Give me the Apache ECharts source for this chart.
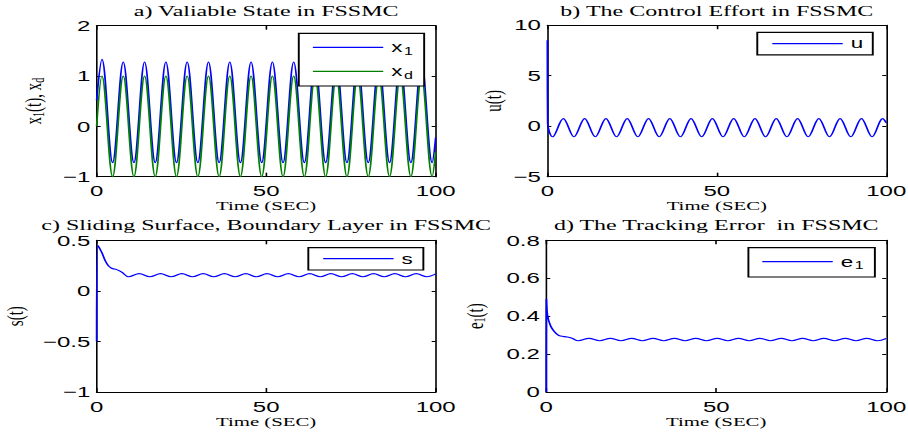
<!DOCTYPE html>
<html>
<head>
<meta charset="utf-8">
<script src="https://cdn.jsdelivr.net/npm/echarts@6/dist/echarts.min.js"></script>
<style>
  html, body { margin: 0; padding: 0; background: #fff; overflow: hidden; }
  #wrap { width: 908px; height: 432px; overflow: hidden; position: relative; }
  #chart { width: 567.5px; height: 432px; transform: scaleX(1.6); transform-origin: 0 0; }
</style>
</head>
<body>
<div id="wrap"><div id="chart"></div></div>
<script>
// ---- Data ----
// Panel a: extrema times (peaks / troughs) of the reference sinusoid, plus ends
const tX = [0, 1.57, 4.71, 7.85, 11.00, 14.14, 17.28, 20.42, 23.56, 26.70, 29.85, 32.99, 36.13, 39.27, 42.41, 45.55, 48.69, 51.84, 54.98, 58.12, 61.26, 64.40, 67.54, 70.69, 73.83, 76.97, 80.11, 83.25, 86.39, 89.54, 92.68, 95.82, 98.96, 100];
const x1Vals = [0.52, 1.33, -0.72, 1.28, -0.72, 1.28, -0.72, 1.28, -0.72, 1.28, -0.72, 1.28, -0.72, 1.28, -0.72, 1.28, -0.72, 1.28, -0.72, 1.28, -0.72, 1.28, -0.72, 1.28, -0.72, 1.28, -0.72, 1.28, -0.72, 1.28, -0.72, 1.28, -0.72, -0.22];
const xdVals = [0, 1, -1, 1, -1, 1, -1, 1, -1, 1, -1, 1, -1, 1, -1, 1, -1, 1, -1, 1, -1, 1, -1, 1, -1, 1, -1, 1, -1, 1, -1, 1, -1, -0.51];

// Panel b: control effort u(t)
const tU = [0, 0.1, 1.57, 4.71, 7.85, 11.00, 14.14, 17.28, 20.42, 23.56, 26.70, 29.85, 32.99, 36.13, 39.27, 42.41, 45.55, 48.69, 51.84, 54.98, 58.12, 61.26, 64.40, 67.54, 70.69, 73.83, 76.97, 80.11, 83.25, 86.39, 89.54, 92.68, 95.82, 98.96, 100];
const uVals = [8.5, 0.3, -1.05, 0.75, -1.05, 0.75, -1.05, 0.75, -1.05, 0.75, -1.05, 0.75, -1.05, 0.75, -1.05, 0.75, -1.05, 0.75, -1.05, 0.75, -1.05, 0.75, -1.05, 0.75, -1.05, 0.75, -1.05, 0.75, -1.05, 0.75, -1.05, 0.75, -1.05, 0.75, 0.33];

// Panel c: sliding surface s(t)
const tS = [0, 0.3, 1.5, 2.5, 3.4, 4.4, 5.9, 7.4, 9.42, 12.57, 15.71, 18.85, 21.99, 25.13, 28.27, 31.42, 34.56, 37.70, 40.84, 43.98, 47.12, 50.27, 53.41, 56.55, 59.69, 62.83, 65.97, 69.12, 72.26, 75.40, 78.54, 81.68, 84.82, 87.96, 91.11, 94.25, 97.39, 100];
const sVals = [-0.5, 0.45, 0.38, 0.30, 0.25, 0.224, 0.21, 0.185, 0.14, 0.17, 0.14, 0.17, 0.14, 0.17, 0.14, 0.17, 0.14, 0.17, 0.14, 0.17, 0.14, 0.17, 0.14, 0.17, 0.14, 0.17, 0.14, 0.17, 0.14, 0.17, 0.14, 0.17, 0.14, 0.17, 0.14, 0.17, 0.14, 0.168];

// Panel d: tracking error e1(t)
const tE = [0, 0.05, 0.4, 1.3, 2.3, 3.2, 4.2, 6.2, 7.6, 9.42, 12.57, 15.71, 18.85, 21.99, 25.13, 28.27, 31.42, 34.56, 37.70, 40.84, 43.98, 47.12, 50.27, 53.41, 56.55, 59.69, 62.83, 65.97, 69.12, 72.26, 75.40, 78.54, 81.68, 84.82, 87.96, 91.11, 94.25, 97.39, 100];
const eVals = [0, 0.49, 0.40, 0.348, 0.32, 0.304, 0.295, 0.29, 0.283, 0.27, 0.283, 0.27, 0.283, 0.27, 0.283, 0.27, 0.283, 0.27, 0.283, 0.27, 0.283, 0.27, 0.283, 0.27, 0.283, 0.27, 0.283, 0.27, 0.283, 0.27, 0.283, 0.27, 0.283, 0.27, 0.283, 0.27, 0.283, 0.27, 0.282];

// Axis ranges / tick intervals (tick labels come from these)
const xRange = { min: 0, max: 100, interval: 50 };
const yRanges = [
  { min: -1, max: 2, interval: 1 },
  { min: -5, max: 10, interval: 5 },
  { min: -1, max: 0.5, interval: 0.5 },
  { min: 0, max: 0.8, interval: 0.2 }
];
const titles = [
  'a) Valiable State in FSSMC',
  'b) The Control Effort in FSSMC',
  'c) Sliding Surface, Boundary Layer in FSSMC',
  'd) The Tracking Error  in FSSMC'
];
const xLabel = 'Time (SEC)';

// ---- Layout (chart coordinates, before the horizontal stretch) ----
const grids = [
  { left: 60.4, top: 25.7, width: 211.9, height: 151.0 },
  { left: 342.1, top: 25.2, width: 211.8, height: 151.5 },
  { left: 60.4, top: 240.3, width: 211.9, height: 151.7 },
  { left: 341.4, top: 240.3, width: 212.5, height: 151.7 }
];
const titleTops = [3, 3, 217.5, 217.5];
const yNameGaps = [32, 26, 43, 37];
const yNames = [
  '{m|x}{s|1}{m|(t), x}{s|d}',
  '{m|u(t)}',
  '{m|s(t)}',
  '{m|e}{s|1}{m|(t)}'
];

const SANS = 'Liberation Sans';
const SERIF = 'Liberation Serif';
const BLUE = '#0000ff';
const GREEN = '#008000';
const seriesColors = { x1: BLUE, xd: GREEN, u: BLUE, s: BLUE, e1: BLUE };

function fmt(v) {
  const n = parseFloat(Number(v).toFixed(3));
  return String(n).replace('-', '\u2212');
}

const option = {
  animation: false,
  backgroundColor: '#fff',
  title: [],
  grid: [],
  xAxis: [],
  yAxis: [],
  legend: [],
  series: []
};

grids.forEach((g, i) => {
  option.grid.push(Object.assign({ outerBoundsMode: 'none', containLabel: false, show: false }, g));
  option.title.push({
    text: titles[i],
    left: g.left + g.width / 2,
    textAlign: 'center',
    top: titleTops[i],
    padding: 0,
    textStyle: { fontFamily: SERIF, fontSize: 15, fontWeight: 'normal', color: '#000' }
  });
  // bottom x axis
  option.xAxis.push({
    type: 'value', gridIndex: i, position: 'bottom',
    min: xRange.min, max: xRange.max, interval: xRange.interval,
    name: xLabel, nameLocation: 'middle', nameGap: 23, nameMoveOverlap: false,
    nameTextStyle: { fontFamily: SERIF, fontSize: 13, color: '#000' },
    axisLine: { show: true, onZero: false, lineStyle: { color: '#000', width: 1 } },
    axisTick: { show: true, inside: true, length: 4, lineStyle: { color: '#000', width: 1 } },
    axisLabel: { show: true, margin: 7, fontFamily: SANS, fontSize: 15, color: '#000', formatter: fmt,
                 showMinLabel: true, showMaxLabel: true, hideOverlap: false },
    splitLine: { show: false }
  });
  // top x axis (box + mirrored ticks)
  option.xAxis.push({
    type: 'value', gridIndex: i, position: 'top',
    min: xRange.min, max: xRange.max, interval: xRange.interval,
    axisLine: { show: true, onZero: false, lineStyle: { color: '#000', width: 1 } },
    axisTick: { show: true, inside: true, length: 4, lineStyle: { color: '#000', width: 1 } },
    axisLabel: { show: false },
    splitLine: { show: false }
  });
  const yr = yRanges[i];
  option.yAxis.push({
    type: 'value', gridIndex: i, position: 'left',
    min: yr.min, max: yr.max, interval: yr.interval,
    name: yNames[i], nameLocation: 'middle', nameGap: yNameGaps[i], nameMoveOverlap: false,
    nameTextStyle: {
      fontFamily: SERIF, color: '#000',
      rich: {
        m: { fontFamily: SERIF, fontSize: 15, lineHeight: 16, color: '#000' },
        s: { fontFamily: SERIF, fontSize: 10, lineHeight: 10, padding: [7, 0, 0, 0], color: '#000' }
      }
    },
    axisLine: { show: true, onZero: false, lineStyle: { color: '#000', width: 1 } },
    axisTick: { show: true, inside: true, length: 2.5, lineStyle: { color: '#000', width: 1 } },
    axisLabel: { show: true, margin: 4, fontFamily: SANS, fontSize: 15, color: '#000', formatter: fmt,
                 showMinLabel: true, showMaxLabel: true, hideOverlap: false },
    splitLine: { show: false }
  });
  option.yAxis.push({
    type: 'value', gridIndex: i, position: 'right',
    min: yr.min, max: yr.max, interval: yr.interval,
    axisLine: { show: true, onZero: false, lineStyle: { color: '#000', width: 1 } },
    axisTick: { show: true, inside: true, length: 2.5, lineStyle: { color: '#000', width: 1 } },
    axisLabel: { show: false },
    splitLine: { show: false }
  });
});

function lineSeries(name, gi, ts, vs, color) {
  return {
    type: 'line', name: name,
    xAxisIndex: gi * 2, yAxisIndex: gi * 2,
    data: ts.map((t, k) => [t, vs[k]]),
    showSymbol: false, symbol: 'none',
    smooth: 0.36, clip: false,
    lineStyle: { color: color, width: 1.1 },
    itemStyle: { color: color },
    emphasis: { disabled: true }
  };
}
option.series.push(lineSeries('x1', 0, tX, x1Vals, BLUE));
option.series.push(lineSeries('xd', 0, tX, xdVals, GREEN));
option.series.push(lineSeries('u', 1, tU, uVals, BLUE));
option.series.push(lineSeries('s', 2, tS, sVals, BLUE));
option.series.push(lineSeries('e1', 3, tE, eVals, BLUE));

const legendLabels = { x1: '{m|x}{s|1}', xd: '{m|x}{s|d}', u: '{m|u}', s: '{m|s}', e1: '{m|e}{s|1}' };
const legendRich = (lh) => ({
  m: { fontFamily: SANS, fontSize: 14, lineHeight: lh, color: '#000' },
  s: { fontFamily: SANS, fontSize: 10, lineHeight: 10, padding: [8, 0, 0, 1], color: '#000' }
});
const legendDefs = [
  { names: ['x1', 'xd'], pos: { right: 302.9 }, top: 33.3, padding: [5, 7, 5.7, 8.8], lh: 18 },
  { names: ['u'], pos: { left: 473.3 }, top: 32.3, padding: [4.3, 6, 4.3, 9.4], lh: 14 },
  { names: ['s'], pos: { left: 192.7 }, top: 247.7, padding: [4, 6.6, 4.3, 9.3], lh: 14 },
  { names: ['e1'], pos: { right: 21.2 }, top: 247.7, padding: [5, 7, 6.3, 8.7], lh: 18 }
];
legendDefs.forEach((L) => {
  option.legend.push(Object.assign({
    data: L.names.map((n) => ({ name: n, icon: 'rect', itemStyle: { color: seriesColors[n], borderWidth: 0 } })),
    orient: 'vertical', top: L.top,
    padding: L.padding, itemGap: 6, itemWidth: 44, itemHeight: 1.2,
    backgroundColor: '#fff', borderColor: '#000', borderWidth: 1.2, borderRadius: 0,
    selectedMode: false,
    formatter: (n) => legendLabels[n],
    textStyle: { rich: legendRich(L.lh), fontFamily: SANS, fontSize: 14, color: '#000' }
  }, L.pos));
});

const chart = echarts.init(document.getElementById('chart'), null, { renderer: 'svg' });
chart.setOption(option);
</script>
</body>
</html>
